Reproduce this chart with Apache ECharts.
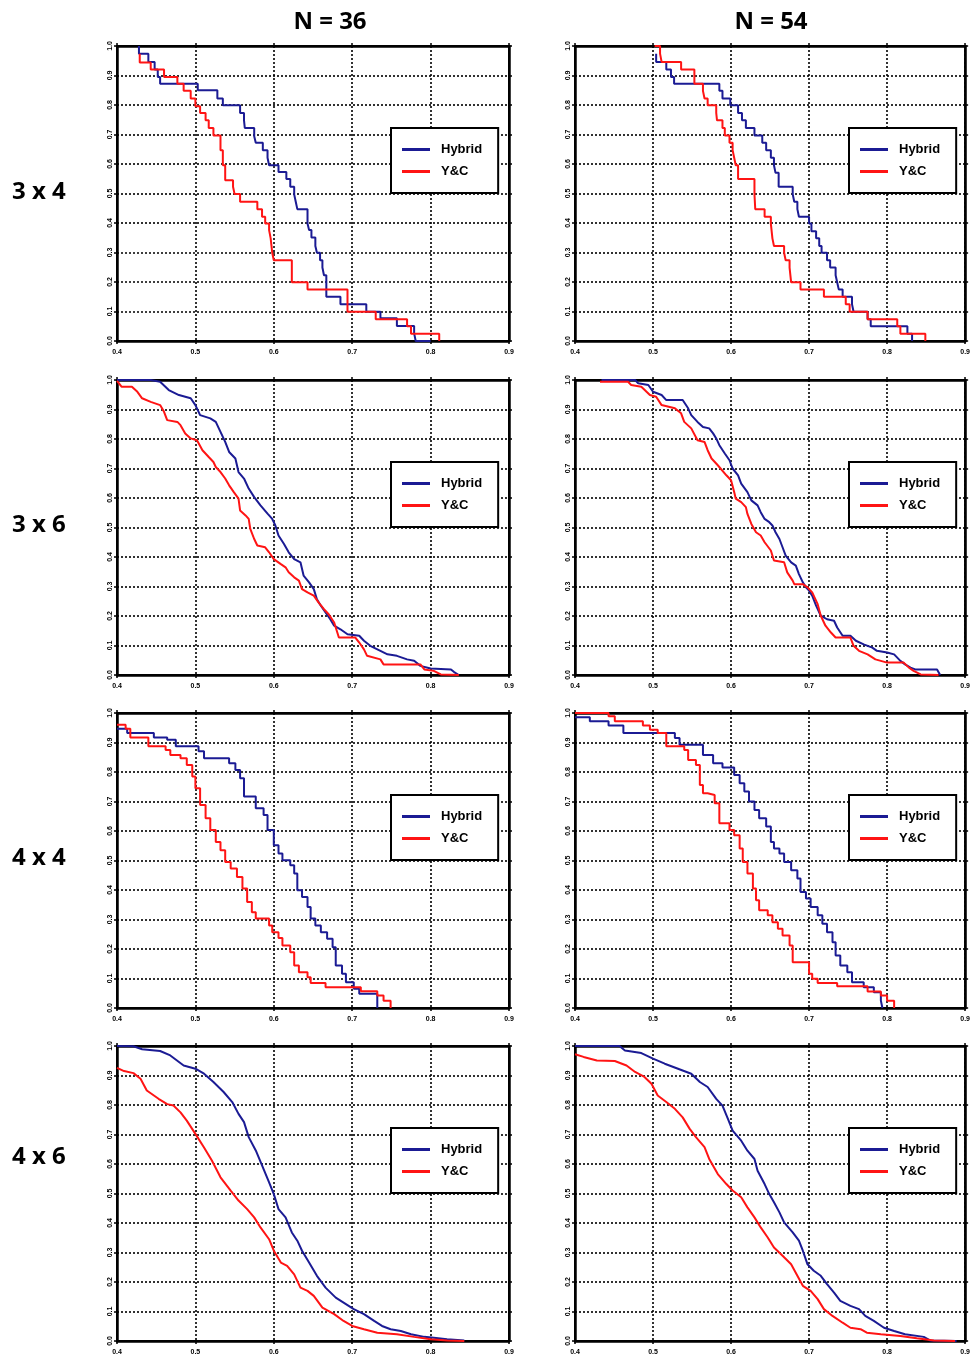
<!DOCTYPE html>
<html>
<head>
<meta charset="utf-8">
<script src="https://cdn.jsdelivr.net/npm/echarts@6/dist/echarts.min.js"></script>
<style>
html, body { margin: 0; padding: 0; background: #fff; }
#main { width: 973px; height: 1359px; }
</style>
</head>
<body>
<div id="main"></div>
<script>
var colTitles = ['N = 36', 'N = 54'];
var rowTitles = ['3 x 4', '3 x 6', '4 x 4', '4 x 6'];
var seriesNames = ['Hybrid', 'Y&C'];
var xTicks = [0.4, 0.5, 0.6, 0.7, 0.8, 0.9];
var yTicks = [0, 0.1, 0.2, 0.3, 0.4, 0.5, 0.6, 0.7, 0.8, 0.9, 1.0];

// 3 x 4, step curves: [x where the curve drops, new level]
var hyb36_3x4 = [[0.428,1.0],[0.428,0.974],[0.440,0.946],[0.448,0.920],[0.452,0.895],[0.455,0.872],[0.503,0.850],[0.528,0.822],[0.535,0.799],[0.557,0.773],[0.562,0.748],[0.563,0.722],[0.575,0.694],[0.577,0.672],[0.586,0.647],[0.592,0.621],[0.594,0.596],[0.606,0.573],[0.616,0.549],[0.621,0.523],[0.626,0.497],[0.628,0.472],[0.630,0.447],[0.643,0.398],[0.645,0.376],[0.648,0.351],[0.653,0.322],[0.655,0.299],[0.659,0.274],[0.662,0.249],[0.664,0.223],[0.667,0.150],[0.685,0.125],[0.718,0.099],[0.736,0.077],[0.757,0.051],[0.779,0.026],[0.781,0],[0.800,0]];
var yc36_3x4 = [[0.429,0.974],[0.429,0.944],[0.443,0.920],[0.460,0.895],[0.477,0.872],[0.485,0.848],[0.494,0.822],[0.500,0.796],[0.506,0.773],[0.513,0.748],[0.517,0.722],[0.523,0.697],[0.532,0.647],[0.535,0.596],[0.538,0.545],[0.548,0.523],[0.550,0.498],[0.557,0.472],[0.579,0.447],[0.585,0.421],[0.589,0.398],[0.594,0.376],[0.596,0.348],[0.598,0.299],[0.600,0.274],[0.623,0.199],[0.643,0.175],[0.694,0.099],[0.730,0.074],[0.770,0.050],[0.775,0.025],[0.811,0]];
var hyb54_3x4 = [[0.504,0.974],[0.504,0.946],[0.517,0.920],[0.523,0.895],[0.527,0.872],[0.585,0.848],[0.589,0.822],[0.599,0.799],[0.609,0.773],[0.614,0.748],[0.619,0.722],[0.630,0.697],[0.640,0.672],[0.645,0.647],[0.651,0.621],[0.655,0.596],[0.657,0.570],[0.661,0.523],[0.679,0.498],[0.681,0.472],[0.685,0.447],[0.687,0.421],[0.700,0.398],[0.703,0.372],[0.709,0.348],[0.713,0.322],[0.716,0.299],[0.723,0.274],[0.727,0.249],[0.734,0.223],[0.736,0.199],[0.738,0.175],[0.743,0.150],[0.755,0.125],[0.757,0.099],[0.775,0.074],[0.779,0.050],[0.826,0.025],[0.832,0]];
var yc54_3x4 = [[0.502,1.0],[0.509,0.974],[0.511,0.946],[0.536,0.920],[0.553,0.872],[0.564,0.848],[0.566,0.822],[0.570,0.799],[0.581,0.773],[0.582,0.748],[0.589,0.722],[0.592,0.697],[0.598,0.672],[0.602,0.647],[0.604,0.621],[0.606,0.596],[0.609,0.549],[0.630,0.498],[0.631,0.447],[0.643,0.421],[0.651,0.398],[0.653,0.348],[0.655,0.322],[0.668,0.299],[0.670,0.274],[0.675,0.249],[0.677,0.199],[0.689,0.175],[0.719,0.150],[0.747,0.125],[0.752,0.099],[0.775,0.074],[0.813,0.050],[0.817,0.025],[0.849,0]];

// 3 x 6, fine steps read as points along the curve
var hyb36_3x6 = [[0.400,1.0],[0.443,1.0],[0.455,0.994],[0.466,0.966],[0.479,0.949],[0.494,0.938],[0.500,0.915],[0.506,0.881],[0.519,0.870],[0.526,0.858],[0.532,0.824],[0.538,0.790],[0.543,0.756],[0.551,0.734],[0.555,0.688],[0.562,0.666],[0.568,0.632],[0.575,0.603],[0.583,0.575],[0.592,0.547],[0.598,0.529],[0.602,0.507],[0.606,0.473],[0.613,0.444],[0.619,0.416],[0.626,0.393],[0.634,0.382],[0.638,0.337],[0.645,0.314],[0.651,0.291],[0.655,0.257],[0.660,0.235],[0.666,0.212],[0.672,0.189],[0.677,0.167],[0.685,0.155],[0.694,0.138],[0.709,0.133],[0.715,0.116],[0.723,0.099],[0.736,0.082],[0.745,0.070],[0.757,0.065],[0.770,0.053],[0.779,0.048],[0.787,0.031],[0.800,0.022],[0.826,0.019],[0.830,0.010],[0.836,0]];
var yc36_3x6 = [[0.400,0.997],[0.406,0.977],[0.419,0.977],[0.426,0.960],[0.432,0.938],[0.443,0.926],[0.455,0.915],[0.460,0.892],[0.464,0.864],[0.477,0.858],[0.481,0.847],[0.487,0.819],[0.494,0.802],[0.502,0.796],[0.509,0.762],[0.517,0.739],[0.523,0.722],[0.526,0.705],[0.532,0.688],[0.538,0.666],[0.543,0.643],[0.549,0.620],[0.555,0.598],[0.557,0.558],[0.564,0.541],[0.568,0.529],[0.570,0.495],[0.575,0.461],[0.579,0.439],[0.589,0.433],[0.594,0.416],[0.600,0.393],[0.609,0.376],[0.615,0.365],[0.619,0.348],[0.626,0.331],[0.632,0.320],[0.636,0.291],[0.643,0.280],[0.651,0.269],[0.657,0.246],[0.664,0.223],[0.670,0.206],[0.677,0.178],[0.683,0.127],[0.704,0.127],[0.709,0.110],[0.715,0.087],[0.719,0.065],[0.736,0.053],[0.740,0.036],[0.787,0.036],[0.792,0.019],[0.804,0.014],[0.813,0.002],[0.836,0]];
var hyb54_3x6 = [[0.434,1.0],[0.477,1.0],[0.481,0.989],[0.494,0.983],[0.500,0.960],[0.511,0.949],[0.517,0.932],[0.538,0.932],[0.545,0.904],[0.549,0.881],[0.557,0.858],[0.564,0.841],[0.572,0.836],[0.577,0.819],[0.581,0.802],[0.585,0.779],[0.592,0.751],[0.598,0.728],[0.602,0.700],[0.609,0.677],[0.613,0.649],[0.621,0.620],[0.626,0.592],[0.634,0.575],[0.638,0.552],[0.643,0.529],[0.649,0.518],[0.653,0.507],[0.657,0.484],[0.662,0.461],[0.666,0.433],[0.670,0.405],[0.677,0.382],[0.683,0.371],[0.687,0.342],[0.692,0.314],[0.696,0.297],[0.700,0.286],[0.704,0.269],[0.709,0.235],[0.715,0.201],[0.723,0.189],[0.732,0.184],[0.736,0.161],[0.743,0.133],[0.753,0.133],[0.760,0.116],[0.770,0.104],[0.781,0.093],[0.787,0.082],[0.800,0.076],[0.809,0.070],[0.817,0.048],[0.823,0.036],[0.830,0.025],[0.836,0.019],[0.864,0.019],[0.868,0]];
var yc54_3x6 = [[0.432,0.994],[0.468,0.994],[0.472,0.983],[0.485,0.977],[0.496,0.949],[0.504,0.943],[0.511,0.915],[0.528,0.904],[0.536,0.887],[0.540,0.858],[0.549,0.836],[0.557,0.796],[0.566,0.790],[0.570,0.762],[0.575,0.734],[0.583,0.711],[0.594,0.677],[0.600,0.660],[0.604,0.620],[0.606,0.598],[0.613,0.586],[0.619,0.569],[0.621,0.546],[0.626,0.512],[0.632,0.484],[0.638,0.473],[0.643,0.450],[0.651,0.422],[0.655,0.388],[0.668,0.382],[0.672,0.348],[0.679,0.320],[0.681,0.308],[0.692,0.308],[0.698,0.297],[0.704,0.280],[0.711,0.240],[0.715,0.201],[0.721,0.167],[0.728,0.144],[0.734,0.127],[0.753,0.127],[0.757,0.099],[0.764,0.082],[0.775,0.070],[0.785,0.053],[0.800,0.042],[0.821,0.042],[0.828,0.025],[0.834,0.014],[0.843,0.002],[0.866,0]];

// 4 x 4, step curves
var hyb36_4x4 = [[0.400,0.947],[0.413,0.932],[0.447,0.917],[0.464,0.909],[0.475,0.887],[0.504,0.870],[0.511,0.847],[0.543,0.830],[0.551,0.807],[0.557,0.779],[0.562,0.717],[0.577,0.677],[0.587,0.654],[0.592,0.603],[0.600,0.552],[0.606,0.524],[0.611,0.501],[0.621,0.484],[0.626,0.456],[0.630,0.399],[0.636,0.376],[0.643,0.342],[0.647,0.303],[0.653,0.280],[0.660,0.257],[0.668,0.235],[0.675,0.206],[0.679,0.144],[0.687,0.116],[0.692,0.087],[0.702,0.065],[0.709,0.048],[0.732,0]];
var yc36_4x4 = [[0.400,0.960],[0.411,0.947],[0.417,0.917],[0.440,0.887],[0.462,0.875],[0.468,0.858],[0.481,0.847],[0.489,0.824],[0.496,0.785],[0.500,0.745],[0.506,0.688],[0.513,0.643],[0.519,0.603],[0.526,0.563],[0.532,0.535],[0.538,0.495],[0.545,0.473],[0.553,0.444],[0.560,0.405],[0.566,0.359],[0.572,0.325],[0.577,0.303],[0.594,0.280],[0.598,0.257],[0.606,0.237],[0.611,0.212],[0.621,0.189],[0.626,0.144],[0.632,0.121],[0.643,0.104],[0.647,0.085],[0.666,0.070],[0.711,0.057],[0.732,0.042],[0.740,0.025],[0.749,0]];
var hyb54_4x4 = [[0.400,0.986],[0.419,0.972],[0.443,0.958],[0.462,0.932],[0.528,0.915],[0.534,0.892],[0.564,0.858],[0.577,0.830],[0.589,0.815],[0.604,0.790],[0.611,0.762],[0.617,0.734],[0.623,0.700],[0.630,0.671],[0.636,0.643],[0.645,0.615],[0.651,0.563],[0.655,0.541],[0.662,0.524],[0.668,0.495],[0.677,0.467],[0.685,0.439],[0.689,0.393],[0.696,0.371],[0.702,0.342],[0.711,0.314],[0.717,0.286],[0.723,0.257],[0.730,0.223],[0.734,0.178],[0.740,0.144],[0.749,0.121],[0.755,0.087],[0.770,0.070],[0.783,0.053],[0.792,0.025],[0.794,0]];
var yc54_4x4 = [[0.400,1.0],[0.443,0.989],[0.451,0.972],[0.487,0.958],[0.496,0.943],[0.506,0.932],[0.517,0.887],[0.540,0.875],[0.545,0.841],[0.555,0.824],[0.560,0.756],[0.564,0.728],[0.570,0.722],[0.579,0.694],[0.585,0.626],[0.598,0.603],[0.604,0.586],[0.611,0.541],[0.615,0.495],[0.621,0.456],[0.628,0.405],[0.632,0.365],[0.636,0.331],[0.647,0.314],[0.653,0.291],[0.660,0.269],[0.666,0.246],[0.675,0.212],[0.679,0.155],[0.700,0.116],[0.704,0.099],[0.711,0.085],[0.736,0.074],[0.775,0.056],[0.792,0.042],[0.800,0.025],[0.809,0]];

// 4 x 6, near-smooth curves
var hyb36_4x6 = [[0.400,1.0],[0.421,0.999],[0.432,0.989],[0.455,0.983],[0.468,0.968],[0.485,0.934],[0.500,0.923],[0.511,0.906],[0.523,0.878],[0.536,0.844],[0.547,0.810],[0.555,0.770],[0.562,0.742],[0.568,0.691],[0.577,0.646],[0.585,0.595],[0.594,0.538],[0.600,0.498],[0.606,0.447],[0.615,0.419],[0.623,0.368],[0.630,0.340],[0.636,0.306],[0.645,0.266],[0.655,0.221],[0.666,0.181],[0.679,0.147],[0.692,0.125],[0.702,0.108],[0.715,0.091],[0.728,0.068],[0.738,0.051],[0.749,0.040],[0.762,0.034],[0.775,0.023],[0.792,0.014],[0.804,0.011],[0.821,0.006],[0.843,0.002]];
var yc36_4x6 = [[0.400,0.926],[0.409,0.915],[0.421,0.908],[0.430,0.889],[0.438,0.849],[0.453,0.821],[0.464,0.803],[0.472,0.798],[0.481,0.775],[0.489,0.747],[0.500,0.702],[0.511,0.656],[0.521,0.612],[0.532,0.555],[0.545,0.510],[0.555,0.476],[0.566,0.447],[0.575,0.419],[0.583,0.385],[0.594,0.345],[0.600,0.306],[0.609,0.266],[0.617,0.255],[0.626,0.226],[0.634,0.181],[0.643,0.170],[0.651,0.153],[0.662,0.113],[0.677,0.091],[0.689,0.068],[0.700,0.051],[0.715,0.040],[0.732,0.028],[0.757,0.023],[0.779,0.014],[0.800,0.006],[0.821,0.002],[0.843,0]];
var hyb54_4x6 = [[0.400,1.0],[0.457,1.0],[0.464,0.985],[0.485,0.976],[0.500,0.957],[0.515,0.940],[0.532,0.923],[0.549,0.906],[0.560,0.878],[0.570,0.861],[0.581,0.821],[0.589,0.798],[0.596,0.753],[0.602,0.713],[0.613,0.679],[0.621,0.645],[0.630,0.617],[0.634,0.577],[0.643,0.532],[0.649,0.498],[0.655,0.470],[0.662,0.436],[0.668,0.402],[0.679,0.368],[0.687,0.340],[0.692,0.306],[0.698,0.260],[0.706,0.238],[0.715,0.221],[0.723,0.193],[0.732,0.164],[0.740,0.136],[0.753,0.119],[0.764,0.108],[0.772,0.085],[0.783,0.068],[0.796,0.045],[0.809,0.034],[0.823,0.023],[0.847,0.014],[0.855,0.002],[0.889,0]];
var yc54_4x6 = [[0.400,0.972],[0.411,0.963],[0.428,0.951],[0.451,0.949],[0.466,0.934],[0.477,0.912],[0.489,0.895],[0.498,0.872],[0.506,0.832],[0.517,0.810],[0.528,0.787],[0.538,0.758],[0.547,0.719],[0.555,0.691],[0.566,0.657],[0.572,0.617],[0.583,0.566],[0.594,0.532],[0.602,0.510],[0.613,0.487],[0.621,0.453],[0.630,0.419],[0.638,0.385],[0.647,0.351],[0.655,0.317],[0.666,0.289],[0.677,0.260],[0.685,0.221],[0.692,0.187],[0.702,0.170],[0.711,0.142],[0.719,0.108],[0.730,0.085],[0.743,0.062],[0.753,0.045],[0.766,0.040],[0.774,0.028],[0.792,0.023],[0.817,0.017],[0.838,0.009],[0.860,0.002],[0.887,0]];

var panels = [
  { hyb: hyb36_3x4, yc: yc36_3x4, step: 'end' },
  { hyb: hyb54_3x4, yc: yc54_3x4, step: 'end' },
  { hyb: hyb36_3x6, yc: yc36_3x6, step: false },
  { hyb: hyb54_3x6, yc: yc54_3x6, step: false },
  { hyb: hyb36_4x4, yc: yc36_4x4, step: 'end' },
  { hyb: hyb54_4x4, yc: yc54_4x4, step: 'end' },
  { hyb: hyb36_4x6, yc: yc36_4x6, step: false },
  { hyb: hyb54_4x6, yc: yc54_4x6, step: false }
];

var colLeft = [117, 575];
var rowTop = [46, 380, 713, 1046];
var plotW = 392, plotH = 295;
var blue = '#1b1b94', red = '#ff1414';

var chart = echarts.init(document.getElementById('main'));

var grids = [], xAxes = [], yAxes = [], series = [], legends = [];
var tickFont = { fontFamily: 'Liberation Sans', fontWeight: 'bold', fontSize: 7, color: '#000' };
var dotted = { color: '#000', width: 1.6, type: [2, 2] };
var frame = { show: true, onZero: false, lineStyle: { color: '#000', width: 2.5 } };
var ticks = { show: true, inside: false, length: 3, lineStyle: { color: '#000', width: 1.5 } };

panels.forEach(function (p, i) {
  var r = Math.floor(i / 2), c = i % 2;
  grids.push({
    left: colLeft[c], top: rowTop[r], width: plotW, height: plotH,
    show: true, borderColor: '#000', borderWidth: 2, backgroundColor: 'transparent'
  });
  // bottom + top x axes
  xAxes.push({
    type: 'value', gridIndex: i, position: 'bottom', min: xTicks[0], max: xTicks[xTicks.length - 1], interval: 0.1,
    axisLine: frame, axisTick: ticks,
    axisLabel: Object.assign({ margin: 8, formatter: function (v) { return v.toFixed(1); } }, tickFont),
    splitLine: { show: true, lineStyle: dotted }
  });
  xAxes.push({
    type: 'value', gridIndex: i, position: 'top', min: xTicks[0], max: xTicks[xTicks.length - 1], interval: 0.1,
    axisLine: frame, axisTick: ticks, axisLabel: { show: false }, splitLine: { show: false }
  });
  // left + right y axes
  yAxes.push({
    type: 'value', gridIndex: i, position: 'left', min: yTicks[0], max: yTicks[yTicks.length - 1], interval: 0.1,
    axisLine: frame, axisTick: ticks,
    axisLabel: Object.assign({ margin: 3, rotate: 90, formatter: function (v) { return v.toFixed(1); } }, tickFont),
    splitLine: { show: true, lineStyle: dotted }
  });
  yAxes.push({
    type: 'value', gridIndex: i, position: 'right', min: yTicks[0], max: yTicks[yTicks.length - 1], interval: 0.1,
    axisLine: frame, axisTick: ticks, axisLabel: { show: false }, splitLine: { show: false }
  });

  [[seriesNames[0], p.hyb, blue], [seriesNames[1], p.yc, red]].forEach(function (s) {
    series.push({
      name: s[0], type: 'line', xAxisIndex: i * 2, yAxisIndex: i * 2,
      data: s[1], step: p.step, symbol: 'none', showSymbol: false,
      lineStyle: { color: s[2], width: 2 }, itemStyle: { color: s[2] },
      animation: false, z: 3
    });
  });

  legends.push({
    left: colLeft[c] + 274, top: rowTop[r] + 82, orient: 'vertical',
    data: seriesNames, backgroundColor: '#fff', borderColor: '#000', borderWidth: 2, borderRadius: 0,
    padding: [15, 16, 15, 11], icon: 'rect', itemWidth: 28, itemHeight: 3, itemGap: 9,
    textStyle: { fontFamily: 'Liberation Sans', fontWeight: 'bold', fontSize: 13, color: '#000', padding: [0, 0, 0, 6] },
    selectedMode: false, z: 10
  });
});

var graphics = [];
colTitles.forEach(function (t, c) {
  graphics.push({
    type: 'text', x: [330, 771][c], y: 22,
    style: { text: t, font: 'bold 24px "Open Sans"', fill: '#000', align: 'center', verticalAlign: 'middle' }
  });
});
rowTitles.forEach(function (t, r) {
  graphics.push({
    type: 'text', x: 12, y: [192, 525, 858, 1157][r],
    style: { text: t, font: 'bold 24px "Open Sans"', fill: '#000', align: 'left', verticalAlign: 'middle' }
  });
});

chart.setOption({
  backgroundColor: '#fff',
  animation: false,
  grid: grids,
  xAxis: xAxes,
  yAxis: yAxes,
  legend: legends,
  series: series,
  graphic: graphics
});
</script>
</body>
</html>
